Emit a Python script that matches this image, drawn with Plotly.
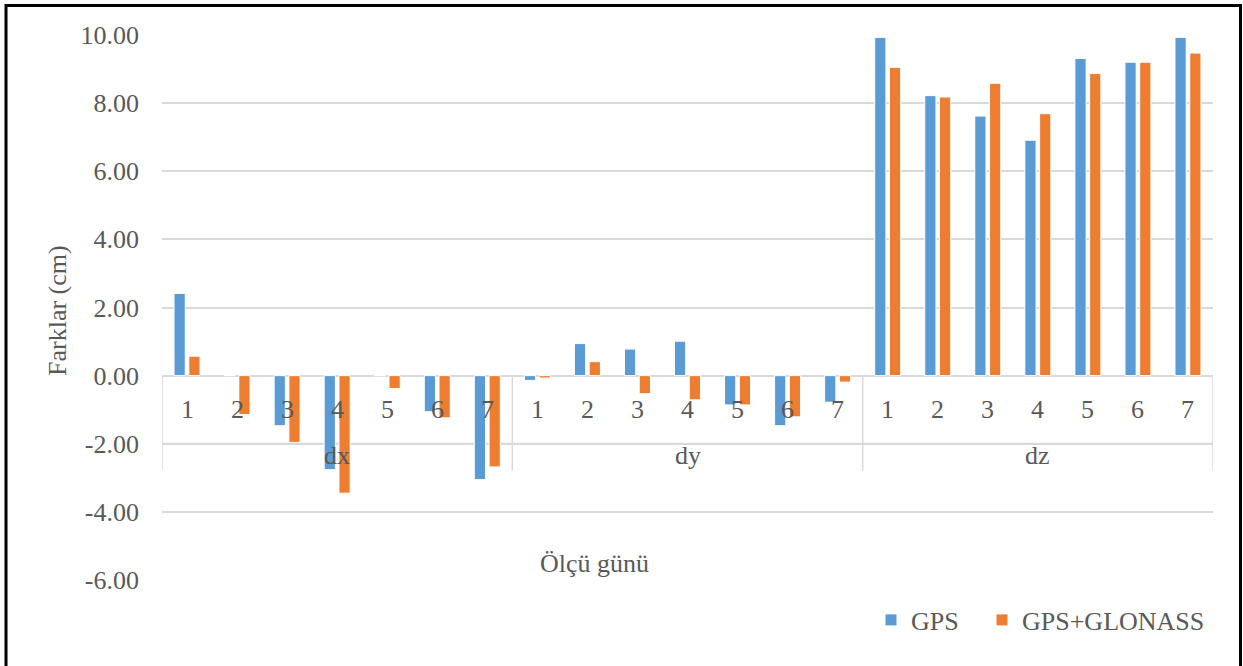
import numpy as np
import plotly.graph_objects as go

# Measured differences (cm) per component and observation day
components = ["dx", "dy", "dz"]
days = ["1", "2", "3", "4", "5", "6", "7"]
gps_dx = [2.41, 0.00, -1.47, -2.76, 0.00, -1.06, -3.05]
gps_dy = [-0.14, 0.94, 0.78, 1.01, -0.86, -1.47, -0.78]
gps_dz = [9.93, 8.22, 7.62, 6.91, 9.31, 9.20, 9.93]
glo_dx = [0.57, -1.14, -1.96, -3.45, -0.38, -1.24, -2.68]
glo_dy = [-0.07, 0.41, -0.53, -0.71, -0.86, -1.21, -0.19]
glo_dz = [9.05, 8.18, 8.58, 7.69, 8.87, 9.20, 9.47]
y_ticks = [-6, -4, -2, 0, 2, 4, 6, 8, 10]

# Figure geometry (pixels)
W, H = 1243, 666
ML, MR, MT, MB = 162, 30, 35, 86
PW, PH = W - ML - MR, H - MT - MB

FONT = "Liberation Serif"
FS = 26
TXT = "#595959"
GRID = "#d9d9d9"
BLUE = "#5B9BD5"
ORANGE = "#ED7D31"

gps = gps_dx + gps_dy + gps_dz
glo = glo_dx + glo_dy + glo_dz
n_days = len(days)
xpos = np.arange(len(components) * n_days)


def px_x(p):
    return (p - ML) / PW


def px_y(p):
    return (MT + PH - p) / PH


fig = go.Figure()
fig.add_trace(go.Bar(x=xpos, y=gps, name="GPS", legend="legend",
                     marker=dict(color=BLUE, line=dict(color="white", width=1))))
fig.add_trace(go.Bar(x=xpos, y=glo, name="GPS+GLONASS", legend="legend2",
                     marker=dict(color=ORANGE, line=dict(color="white", width=1))))

annotations = []
# day labels sitting just below the zero line
for i, x in enumerate(xpos):
    annotations.append(dict(x=x, y=-0.99, xref="x", yref="y", text=days[i % n_days],
                            showarrow=False, yanchor="middle",
                            font=dict(family=FONT, size=FS, color=TXT)))
# component group labels
for g, name in enumerate(components):
    annotations.append(dict(x=g * n_days + (n_days - 1) / 2, y=-2.35, xref="x", yref="y",
                            text=name, showarrow=False, yanchor="middle",
                            font=dict(family=FONT, size=FS, color=TXT)))
# axis titles
annotations.append(dict(x=px_x(594), y=px_y(563), xref="paper", yref="paper",
                        text="Ölçü günü", showarrow=False, xanchor="center", yanchor="middle",
                        font=dict(family=FONT, size=FS, color=TXT)))
annotations.append(dict(x=px_x(57), y=px_y(311), xref="paper", yref="paper",
                        text="Farklar (cm)", showarrow=False, textangle=-90,
                        xanchor="center", yanchor="middle",
                        font=dict(family=FONT, size=FS, color=TXT)))

shapes = []
x_left, x_right = xpos[0] - 0.5, xpos[-1] + 0.5
# category separators below the zero line
for g in range(len(components) + 1):
    xs = g * n_days - 0.5
    shapes.append(dict(type="line", xref="x", yref="y", x0=xs, x1=xs, y0=0, y1=-2.79,
                       line=dict(color=GRID, width=1.5), layer="below"))
shapes.append(dict(type="line", xref="x", yref="y", x0=x_left, x1=x_right, y0=-1.99, y1=-1.99,
                   line=dict(color=GRID, width=1.5), layer="below"))

# black frame around the chart
shapes.append(dict(type="rect", xref="paper", yref="paper",
                   x0=px_x(6), x1=px_x(1240.5), y0=px_y(672), y1=px_y(5.5),
                   line=dict(color="black", width=3), fillcolor="rgba(0,0,0,0)"))

legend_style = dict(orientation="h", y=px_y(620), xanchor="left", yanchor="middle",
                    font=dict(family=FONT, size=FS, color=TXT), bgcolor="rgba(0,0,0,0)")

fig.update_layout(
    width=W, height=H,
    margin=dict(l=ML, r=MR, t=MT, b=MB, pad=0),
    paper_bgcolor="white", plot_bgcolor="white",
    barmode="group", bargap=0.41, bargroupgap=0.24,
    font=dict(family=FONT, size=FS, color=TXT),
    xaxis=dict(range=[x_left, x_right], showticklabels=False, showgrid=False,
               zeroline=False, showline=False, ticks=""),
    yaxis=dict(range=[-6, 10], tickvals=y_ticks, ticktext=[f"{v:.2f}" for v in y_ticks],
               showgrid=True, gridcolor=GRID, gridwidth=1.5,
               zeroline=True, zerolinecolor=GRID, zerolinewidth=1.5,
               showline=False, ticks="", ticklabelstandoff=22,
               tickfont=dict(family=FONT, size=FS, color=TXT)),
    legend=dict(x=px_x(871), **legend_style),
    legend2=dict(x=px_x(982), **legend_style),
    annotations=annotations,
    shapes=shapes,
    showlegend=True,
)

fig.write_html("out.html")
